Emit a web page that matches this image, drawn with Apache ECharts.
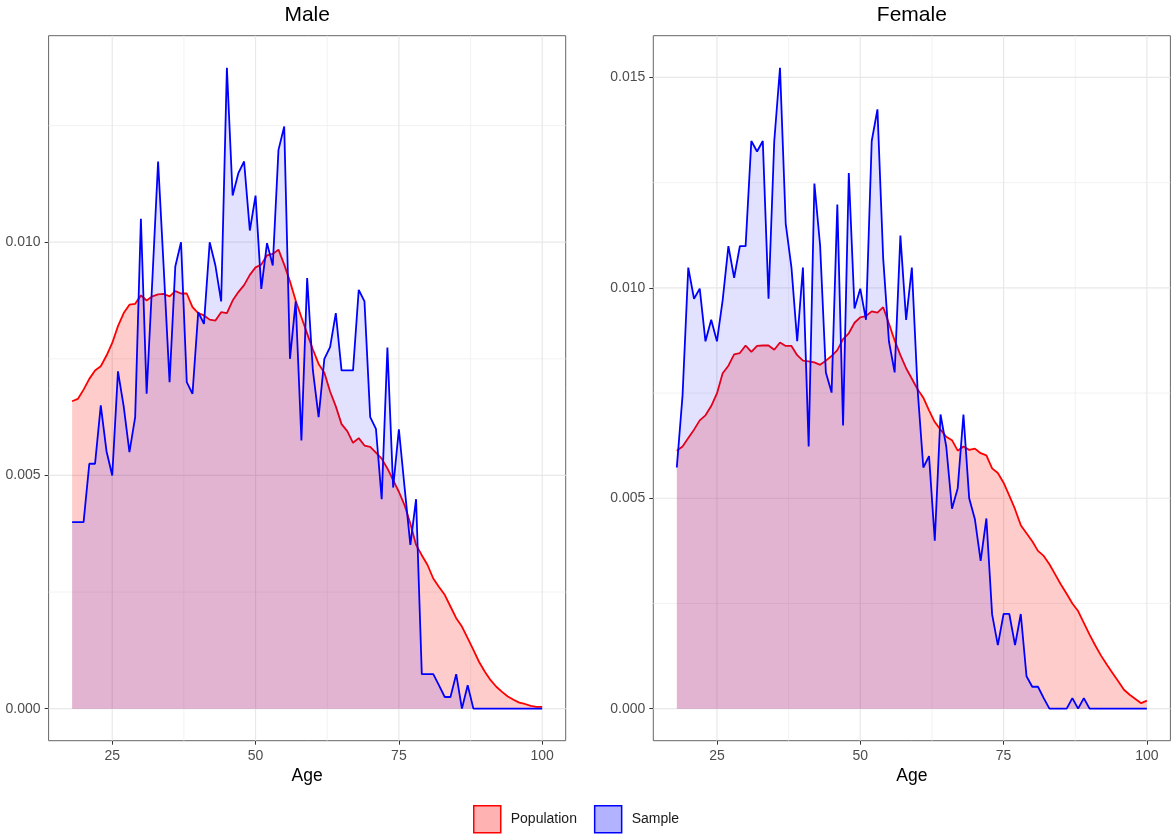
<!DOCTYPE html>
<html><head><meta charset="utf-8">
<script src="https://cdn.jsdelivr.net/npm/echarts@6/dist/echarts.min.js"></script>
<style>html,body{margin:0;padding:0;background:#fff}#c{width:1171px;height:836px}</style>
</head><body><div id="c"></div>
<script>
const ages = [18,19,20,21,22,23,24,25,26,27,28,29,30,31,32,33,34,35,36,37,38,39,40,41,42,43,44,45,46,47,48,49,50,51,52,53,54,55,56,57,58,59,60,61,62,63,64,65,66,67,68,69,70,71,72,73,74,75,76,77,78,79,80,81,82,83,84,85,86,87,88,89,90,91,92,93,94,95,96,97,98,99,100];

const maleSample = [
 0.00400,0.00400,0.00400,0.00525,0.00525,0.00650,0.00552,0.00500,0.00723,0.00648,
 0.00550,0.00625,0.01050,0.00675,0.00920,0.01173,0.00940,0.00700,0.00948,0.01000,
 0.00700,0.00675,0.00850,0.00825,0.01000,0.00950,0.00873,0.01374,0.01100,0.01148,
 0.01173,0.01025,0.01100,0.00900,0.00998,0.00950,0.01198,0.01248,0.00750,0.00873,
 0.00575,0.00923,0.00725,0.00625,0.00750,0.00775,0.00848,0.00725,0.00725,0.00725,
 0.00898,0.00873,0.00625,0.00600,0.00449,0.00774,0.00474,0.00599,0.00474,0.00351,
 0.00449,0.00074,0.00074,0.00074,0.00050,0.00025,0.00025,0.00074,0.00000,0.00050,
 0,0,0,0,0,0,0,0,0,0,
 0,0,0];
const malePopulation = [
 0.00659,0.00664,0.00684,0.00707,0.00725,0.00734,0.00757,0.00784,0.00820,0.00848,
 0.00866,0.00868,0.00886,0.00875,0.00884,0.00888,0.00889,0.00884,0.00895,0.00890,
 0.00890,0.00861,0.00848,0.00843,0.00834,0.00832,0.00850,0.00848,0.00875,0.00893,
 0.00908,0.00930,0.00946,0.00952,0.00972,0.00975,0.00984,0.00952,0.00916,0.00875,
 0.00839,0.00804,0.00770,0.00739,0.00720,0.00680,0.00648,0.00610,0.00595,0.00570,
 0.00580,0.00564,0.00561,0.00549,0.00536,0.00515,0.00490,0.00465,0.00436,0.00397,
 0.00351,0.00329,0.00308,0.00279,0.00261,0.00244,0.00219,0.00194,0.00176,0.00151,
 0.00126,0.00100,0.00079,0.00061,0.00047,0.00036,0.00026,0.00019,0.00013,0.00010,
 0.00006,0.00004,0.00004];
const femaleSample = [
 0.00573,0.00744,0.01048,0.00974,0.00998,0.00873,0.00924,0.00873,0.00971,0.01099,
 0.01024,0.01099,0.01099,0.01349,0.01324,0.01349,0.00974,0.01349,0.01523,0.01152,
 0.01048,0.00873,0.01048,0.00623,0.01248,0.01100,0.00799,0.00751,0.01198,0.00673,
 0.01273,0.00951,0.00998,0.00924,0.01349,0.01424,0.01070,0.00873,0.00799,0.01124,
 0.00924,0.01048,0.00759,0.00573,0.00600,0.00399,0.00699,0.00623,0.00475,0.00524,
 0.00699,0.00500,0.00450,0.00351,0.00452,0.00224,0.00151,0.00225,0.00225,0.00151,
 0.00225,0.00077,0.00052,0.00052,0.00025,0,0,0,0,0.00025,
 0,0.00025,0,0,0,0,0,0,0,0,
 0,0,0];
const femalePopulation = [
 0.00613,0.00623,0.00643,0.00663,0.00685,0.00697,0.00719,0.00749,0.00797,0.00815,
 0.00842,0.00845,0.00863,0.00848,0.00862,0.00863,0.00863,0.00853,0.00870,0.00862,
 0.00862,0.00840,0.00827,0.00825,0.00823,0.00817,0.00827,0.00838,0.00852,0.00878,
 0.00892,0.00917,0.00930,0.00933,0.00944,0.00941,0.00954,0.00915,0.00875,0.00840,
 0.00809,0.00784,0.00759,0.00739,0.00709,0.00681,0.00663,0.00646,0.00638,0.00613,
 0.00623,0.00615,0.00618,0.00607,0.00602,0.00571,0.00560,0.00537,0.00506,0.00474,
 0.00436,0.00417,0.00398,0.00375,0.00363,0.00343,0.00319,0.00295,0.00273,0.00250,
 0.00232,0.00204,0.00176,0.00150,0.00126,0.00105,0.00085,0.00065,0.00045,0.00033,
 0.00023,0.00013,0.00019];

const panelTitles = ['Male', 'Female'];
const xTicks = [25, 50, 75, 100];
const xMinor = [37.5, 62.5, 87.5];
const yTicksMale = [0, 0.005, 0.010];
const yTicksFemale = [0, 0.005, 0.010, 0.015];
const yMinorMale = [0.0025, 0.0075, 0.0125];
const yMinorFemale = [0.0025, 0.0075, 0.0125];

const FONT = '"Liberation Sans", Arial, sans-serif';
const chart = echarts.init(document.getElementById('c'), null, {renderer: 'canvas'});

function pairs(vals) { return ages.map((a, i) => [a, vals[i]]); }
const xMin = ages[0] - 0.05 * (ages[ages.length - 1] - ages[0]);
const xMax = ages[ages.length - 1] + 0.05 * (ages[ages.length - 1] - ages[0]);

const panels = [
  {sample: maleSample, pop: malePopulation, yt: yTicksMale, ym: yMinorMale, left: 48.6},
  {sample: femaleSample, pop: femalePopulation, yt: yTicksFemale, ym: yMinorFemale, left: 653.3}
];

// gridline kinds: 0 = vertical major, 1 = vertical minor, 2 = horizontal major, 3 = horizontal minor
function gridRender(params, api) {
  const kind = api.value(2);
  const cs = params.coordSys;
  const pt = api.coord([api.value(0), api.value(1)]);
  const shape = kind < 2
    ? {x1: pt[0], y1: cs.y, x2: pt[0], y2: cs.y + cs.height}
    : {x1: cs.x, y1: pt[1], x2: cs.x + cs.width, y2: pt[1]};
  const major = kind % 2 === 0;
  return {type: 'line', shape: shape, silent: true,
    style: {stroke: major ? '#e8e8e8' : '#efefef', lineWidth: major ? 1.2 : 0.8}};
}

const grids = [], xAxes = [], yAxes = [], series = [], graphics = [];
panels.forEach((p, i) => {
  const vmax = Math.max(...p.sample, ...p.pop);
  const yMid = p.yt[1];
  grids.push({left: p.left, top: 35.7, width: 517.1, height: 705, show: true,
    borderColor: '#666', borderWidth: 1, backgroundColor: 'transparent',
    containLabel: false, outerBoundsMode: 'none'});
  xAxes.push({type: 'value', gridIndex: i, min: xMin, max: xMax,
    axisLine: {show: false, onZero: false},
    axisTick: {show: true, customValues: xTicks, length: 4, lineStyle: {color: '#333', width: 1}},
    axisLabel: {customValues: xTicks, color: '#4d4d4d', fontSize: 14, fontFamily: FONT, margin: 8},
    splitLine: {show: false},
    name: 'Age', nameLocation: 'middle', nameGap: 25,
    nameTextStyle: {color: '#000', fontSize: 17.5, fontFamily: FONT}});
  yAxes.push({type: 'value', gridIndex: i, min: -0.05 * vmax, max: 1.05 * vmax,
    axisLine: {show: false, onZero: false},
    axisTick: {show: true, customValues: p.yt, length: 4, lineStyle: {color: '#333', width: 1}},
    axisLabel: {customValues: p.yt, color: '#4d4d4d', fontSize: 14, fontFamily: FONT, margin: 8,
      formatter: v => Number(v).toFixed(3)},
    splitLine: {show: false}});
  const gridData = [
    ...xMinor.map(v => [v, yMid, 1]),
    ...p.ym.map(v => [50, v, 3]),
    ...xTicks.map(v => [v, yMid, 0]),
    ...p.yt.map(v => [50, v, 2])
  ];
  series.push({type: 'custom', name: '_grid' + i, xAxisIndex: i, yAxisIndex: i, data: gridData,
    encode: {x: 0, y: 1}, renderItem: gridRender, silent: true, z: 1, animation: false, clip: false});
  series.push({type: 'line', name: 'Population', xAxisIndex: i, yAxisIndex: i, data: pairs(p.pop),
    symbol: 'none', showSymbol: false, z: 10, animation: false,
    lineStyle: {color: '#ff0000', width: 1.8}, itemStyle: {color: '#ff0000'},
    areaStyle: {color: 'rgba(255,0,0,0.2)', opacity: 1}, emphasis: {disabled: true}});
  series.push({type: 'line', name: 'Sample', xAxisIndex: i, yAxisIndex: i, data: pairs(p.sample),
    symbol: 'none', showSymbol: false, z: 11, animation: false,
    lineStyle: {color: '#0000ff', width: 1.8}, itemStyle: {color: '#0000ff'},
    areaStyle: {color: 'rgba(0,0,255,0.114)', opacity: 1}, emphasis: {disabled: true}});
  graphics.push({type: 'text', x: p.left + 517.1 / 2, y: 15, silent: true,
    style: {text: panelTitles[i], align: 'center', verticalAlign: 'middle',
      font: '21px ' + FONT, fill: '#000'}});
});

chart.setOption({
  animation: false,
  backgroundColor: '#ffffff',
  grid: grids, xAxis: xAxes, yAxis: yAxes, series: series,
  graphic: graphics,
  legend: {left: 473, top: 805, itemWidth: 27, itemHeight: 27, itemGap: 17, icon: 'rect',
    selectedMode: false, padding: 0,
    textStyle: {fontSize: 14, color: '#1a1a1a', fontFamily: FONT, padding: [0, 0, 0, 5]},
    data: [
      {name: 'Population', icon: 'rect', itemStyle: {color: 'rgba(255,0,0,0.3)', borderColor: '#ff0000', borderWidth: 1.5}},
      {name: 'Sample', icon: 'rect', itemStyle: {color: 'rgba(0,0,255,0.3)', borderColor: '#0000ff', borderWidth: 1.5}}
    ]}
});
</script></body></html>
